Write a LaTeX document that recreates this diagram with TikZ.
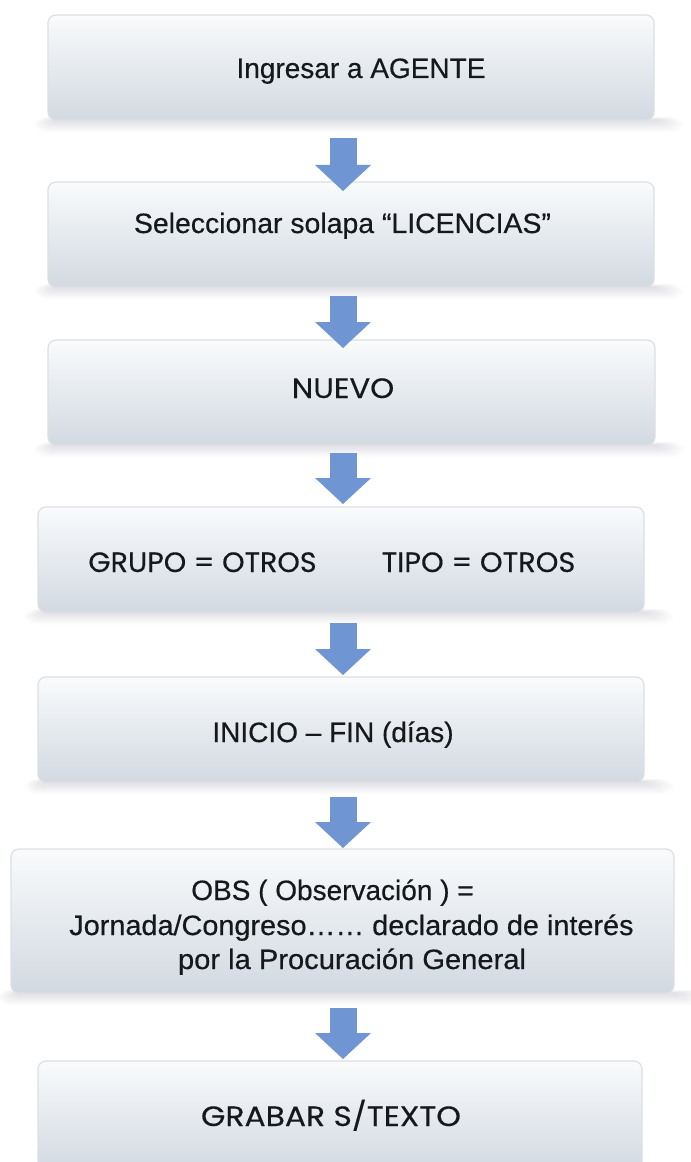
\documentclass[tikz,border=0pt]{standalone}
\usepackage{fontspec}
\setmainfont{Liberation Sans}[FakeBold=0.45]
\newfontfamily\geo{Poppins}[FakeBold=0.3]
\usetikzlibrary{arrows.meta,calc}
\definecolor{arrowblue}{HTML}{6F96D3}
\definecolor{boxtop}{HTML}{F9FBFC}
\definecolor{boxbot}{HTML}{D2D9E1}
\definecolor{boxline}{HTML}{DCE0E4}
\definecolor{shadowc}{HTML}{6A7C90}
\definecolor{txt}{HTML}{15181C}
\pgfdeclarelayer{bg}
\pgfsetlayers{bg,main}
\begin{document}
\begin{tikzpicture}[x=0.75pt,y=-0.75pt,
  stepbox/.style={draw=boxline, line width=0.9pt, rounded corners=6pt, top color=boxtop, bottom color=boxbot, inner sep=0pt, outer sep=0pt, anchor=north west},
  flow/.style={draw=arrowblue, line width=20.25pt, -{Triangle[length=19.5pt,width=42pt,line width=0pt]}},
  lbl/.style={anchor=base, text=txt, inner sep=0pt, font=\fontsize{21}{25}\selectfont},
  glbl/.style={anchor=base, text=txt, inner sep=0pt, font=\geo\fontsize{21}{25}\selectfont}]
\useasboundingbox (0,0) rectangle (691,1162);

\node[stepbox, minimum width=454.5pt, minimum height=78.75pt] (b1) at (48,15) {};
\node[stepbox, minimum width=454.5pt, minimum height=78.75pt] (b2) at (48,182) {};
\node[stepbox, minimum width=455.25pt, minimum height=78.75pt] (b3) at (48,340) {};
\node[stepbox, minimum width=454.5pt, minimum height=78.75pt] (b4) at (38,507) {};
\node[stepbox, minimum width=454.5pt, minimum height=78.75pt] (b5) at (38,677) {};
\node[stepbox, minimum width=497.25pt, minimum height=108pt] (b6) at (11,849) {};
\node[stepbox, minimum width=453pt, minimum height=82.5pt] (b7) at (38,1061) {};

\begin{pgfonlayer}{bg}
\fill[white] (0,0) rectangle (691,1162);
\foreach \b in {b1,b2,b3,b4,b5,b6}{
  \foreach \i in {1,...,10}{
    \pgfmathsetmacro\rc{0.9*\i}
    \fill[shadowc, opacity=0.02, rounded corners=\rc pt]
      ($(\b.south west)+(8-2.2*\i,-0.3*\i)$) rectangle ($(\b.south east)+(3.0*\i,1.2*\i)$);
  }
}
\end{pgfonlayer}

\coordinate (ax) at (343,0);
\draw[flow] ($(b1.south -| ax)+(0,18)$) -- ($(b2.north -| ax)+(0,9)$);
\draw[flow] ($(b2.south -| ax)+(0,9)$) -- ($(b3.north -| ax)+(0,8)$);
\draw[flow] ($(b3.south -| ax)+(0,8)$) -- ($(b4.north -| ax)+(0,-3)$);
\draw[flow] ($(b4.south -| ax)+(0,11)$) -- ($(b5.north -| ax)+(0,-2)$);
\draw[flow] ($(b5.south -| ax)+(0,15)$) -- ($(b6.north -| ax)+(0,-1)$);
\draw[flow] ($(b6.south -| ax)+(0,15)$) -- ($(b7.north -| ax)+(0,-2)$);

\node[lbl] (t1) at (361,78) {Ingresar a AGENTE};
\node[lbl, xscale=1.015] (t2) at (342.5,233) {Seleccionar solapa “LICENCIAS”};
\node[glbl, xscale=1.09] (t3) at (343,398) {NUEVO};
\node[glbl, xscale=1.02] (t4a) at (202.5,572) {GRUPO = OTROS};
\node[glbl, xscale=1.03] (t4b) at (478.5,572) {TIPO = OTROS};
\node[lbl] (t5) at (333,742) {INICIO – FIN (días)};
\node[lbl] (t6a) at (332.5,900) {OBS ( Observación ) =};
\node[lbl, xscale=1.03] (t6b) at (351.5,935) {Jornada/Congreso…… declarado de interés};
\node[lbl, xscale=1.04] (t6c) at (352,969) {por la Procuración General};
\node[glbl, xscale=1.12] (t7) at (331,1126) {GRABAR S/TEXTO};
\end{tikzpicture}
\end{document}
